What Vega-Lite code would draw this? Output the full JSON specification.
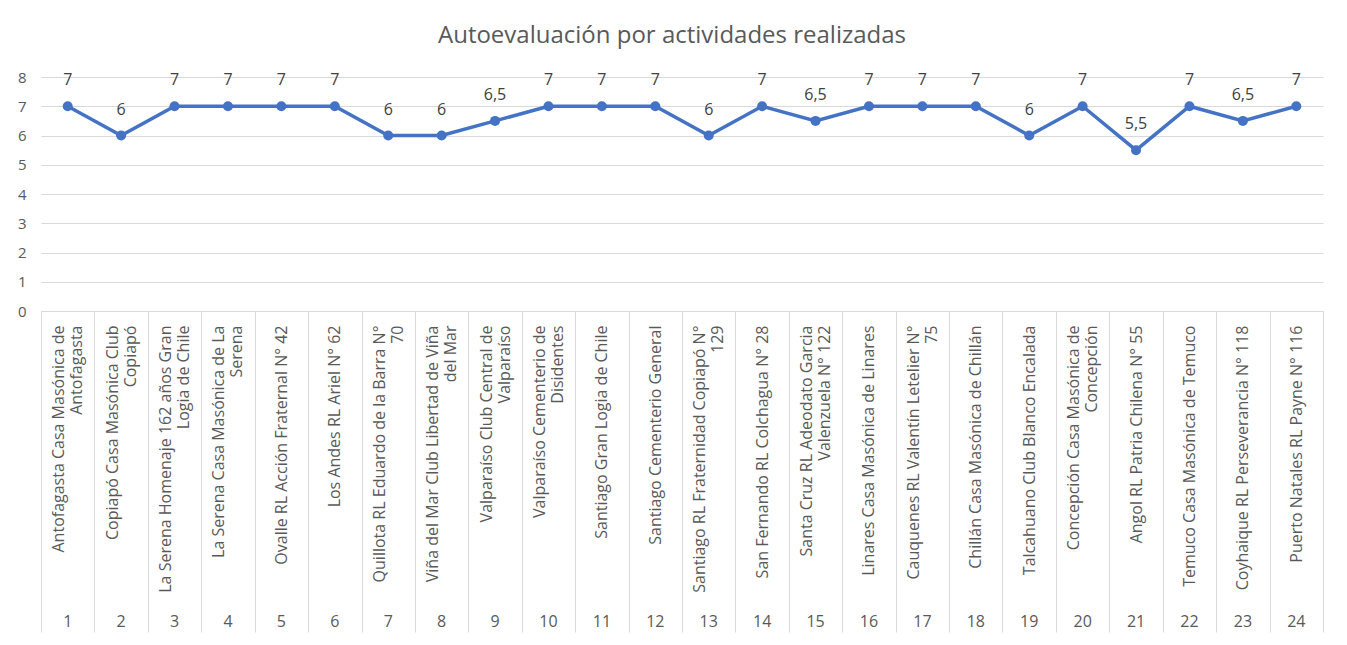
{
  "$schema": "https://vega.github.io/schema/vega-lite/v6.json",
  "width": 1282,
  "height": 234,
  "autosize": {"type": "none"},
  "padding": {"left": 41, "top": 77, "right": 24, "bottom": 334},
  "background": "white",
  "config": {
    "locale": {"number": {"decimal": ",", "thousands": ".", "grouping": [3], "currency": ["", " €"]}},
    "view": {"stroke": null},
    "font": "Open Sans"
  },
  "title": {
    "text": "Autoevaluación por actividades realizadas",
    "fontSize": 24,
    "fontWeight": "normal",
    "color": "#595959",
    "anchor": "middle",
    "offset": 22,
    "dx": -10
  },
  "data": {
    "values": [
      {"key": "1|Antofagasta Casa Masónica de|Antofagasta", "valor": 7},
      {"key": "2|Copiapó Casa Masónica Club|Copiapó", "valor": 6},
      {"key": "3|La Serena Homenaje 162 años Gran|Logia de Chile", "valor": 7},
      {"key": "4|La Serena Casa Masónica de La|Serena", "valor": 7},
      {"key": "5|Ovalle RL Acción Fraternal N° 42", "valor": 7},
      {"key": "6|Los Andes RL Ariel N° 62", "valor": 7},
      {"key": "7|Quillota RL Eduardo de la Barra N°|70", "valor": 6},
      {"key": "8|Viña del Mar Club Libertad de Viña|del Mar", "valor": 6},
      {"key": "9|Valparaíso Club Central de|Valparaíso", "valor": 6.5},
      {"key": "10|Valparaíso Cementerio de|Disidentes", "valor": 7},
      {"key": "11|Santiago Gran Logia de Chile", "valor": 7},
      {"key": "12|Santiago Cementerio General", "valor": 7},
      {"key": "13|Santiago RL Fraternidad Copiapó N°|129", "valor": 6},
      {"key": "14|San Fernando RL Colchagua N° 28", "valor": 7},
      {"key": "15|Santa Cruz RL Adeodato Garcia|Valenzuela N° 122", "valor": 6.5},
      {"key": "16|Linares Casa Masónica de Linares", "valor": 7},
      {"key": "17|Cauquenes RL Valentín Letelier N°|75", "valor": 7},
      {"key": "18|Chillán Casa Masónica de Chillán", "valor": 7},
      {"key": "19|Talcahuano Club Blanco Encalada", "valor": 6},
      {"key": "20|Concepción Casa Masónica de|Concepción", "valor": 7},
      {"key": "21|Angol RL Patria Chilena N° 55", "valor": 5.5},
      {"key": "22|Temuco Casa Masónica de Temuco", "valor": 7},
      {"key": "23|Coyhaique RL Perseverancia N° 118", "valor": 6.5},
      {"key": "24|Puerto Natales RL Payne N° 116", "valor": 7}
    ]
  },
  "encoding": {
    "y": {
      "field": "valor",
      "type": "quantitative",
      "scale": {"domain": [0, 8], "nice": false, "zero": true},
      "axis": {
        "title": null,
        "values": [0, 1, 2, 3, 4, 5, 6, 7, 8],
        "grid": true,
        "gridColor": "#D9D9D9",
        "domain": false,
        "ticks": false,
        "labelPadding": 15,
        "labelFontSize": 15,
        "labelColor": "#595959"
      }
    }
  },
  "layer": [
    {
      "mark": {"type": "line", "color": "#4472C4", "strokeWidth": 3.5},
      "encoding": {
        "x": {
          "field": "key",
          "type": "ordinal",
          "sort": null,
          "bandPosition": 0.5,
          "scale": {"type": "band", "paddingInner": 0, "paddingOuter": 0},
          "axis": {
            "title": null,
            "orient": "bottom",
            "labelAngle": -90,
            "labelAlign": "right",
            "labelBaseline": "middle",
            "labelExpr": "slice(split(datum.value, '|'), 1)",
            "labelOffset": {"condition": {"test": "length(split(datum.value, '|')) > 2", "value": -9}, "value": 0},
            "tickBand": "extent",
            "tickSize": 321,
            "tickColor": "#D9D9D9",
            "domainColor": "#D9D9D9",
            "labelPadding": -307,
            "labelLimit": 400,
            "labelFontSize": 16,
            "labelLineHeight": 18,
            "labelColor": "#595959",
            "grid": false
          }
        }
      }
    },
    {
      "mark": {"type": "point", "filled": true, "size": 100, "color": "#4472C4", "opacity": 1},
      "encoding": {
        "x": {
          "field": "key",
          "type": "ordinal",
          "sort": null,
          "bandPosition": 0.5,
          "scale": {"type": "band", "paddingInner": 0, "paddingOuter": 0},
          "axis": {
            "title": null,
            "orient": "bottom",
            "labelAngle": 0,
            "labelExpr": "split(datum.value, '|')[0]",
            "ticks": false,
            "domain": false,
            "grid": false,
            "labelPadding": 302,
            "labelFontSize": 16,
            "labelColor": "#595959"
          }
        }
      }
    },
    {
      "mark": {"type": "text", "dy": -26, "fontSize": 16, "color": "#404040", "baseline": "middle"},
      "encoding": {
        "x": {
          "field": "key",
          "type": "ordinal",
          "sort": null,
          "bandPosition": 0.5,
          "scale": {"type": "band", "paddingInner": 0, "paddingOuter": 0},
          "axis": null
        },
        "text": {"field": "valor", "type": "quantitative", "format": "~g"}
      }
    }
  ],
  "resolve": {"axis": {"x": "independent"}}
}
